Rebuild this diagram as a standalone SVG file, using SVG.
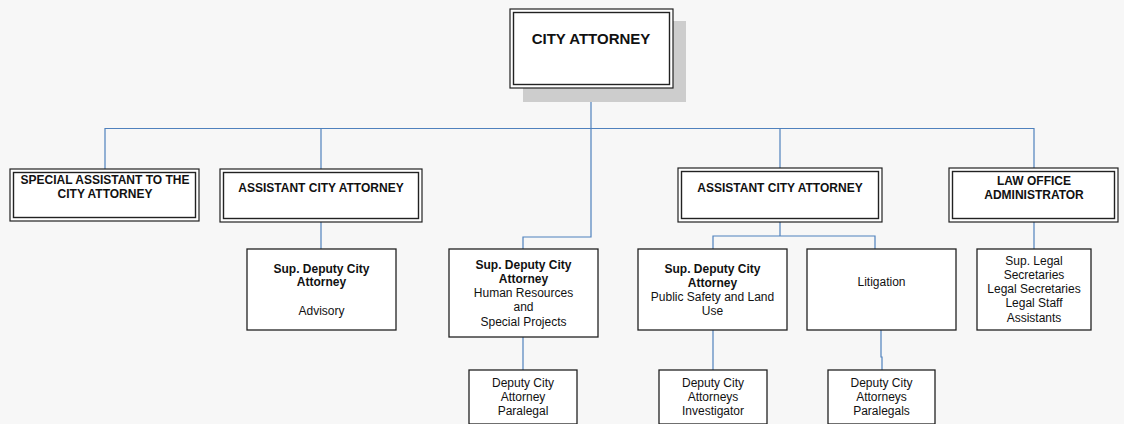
<svg xmlns="http://www.w3.org/2000/svg" width="1124" height="424" viewBox="0 0 1124 424">
<style>
.bg{fill:#f7f7f7}
.conn{fill:none;stroke:#4f81bd;stroke-width:1.2}
.outer{fill:#fff;stroke:#222;stroke-width:1.2}
.inner{fill:none;stroke:#222;stroke-width:1.4}
.box{fill:#fff;stroke:#222;stroke-width:1.3}
.shadow{fill:#cdcdcd}
text{font-family:"Liberation Sans",Arial,sans-serif;fill:#111;text-anchor:middle;font-size:12px}
.b{font-weight:bold}
.t{font-weight:bold;font-size:15px}
</style>
<rect class="bg" x="0" y="0" width="1124" height="424"/>
<g id="connectors">
<path class="conn" d="M591,88 V128.5"/>
<path class="conn" d="M105,169 V128.5 H1034 V168"/>
<path class="conn" d="M321,128.5 V169"/>
<path class="conn" d="M780,128.5 V168"/>
<path class="conn" d="M591,128.5 V237 H523 V249"/>
<path class="conn" d="M321,222 V249"/>
<path class="conn" d="M780,222 V236 H713 V249 M780,236 H875 V249"/>
<path class="conn" d="M1034,222 V249"/>
<path class="conn" d="M523,337 V370"/>
<path class="conn" d="M713,330 V370"/>
<path class="conn" d="M881,330 V357 H882 V370"/>
</g>
<g id="city-attorney">
<rect class="shadow" x="523" y="21" width="163" height="81"/>
<rect class="outer" x="510" y="9" width="163" height="79"/>
<rect class="inner" x="513.5" y="12.5" width="156" height="72"/>
<text class="t" x="591" y="44">CITY ATTORNEY</text>
</g>
<g id="special-assistant">
<rect class="outer" x="10" y="169" width="189" height="52"/>
<rect class="inner" x="13.5" y="172.5" width="182" height="45"/>
<text class="b" x="105" y="184">SPECIAL ASSISTANT TO THE</text>
<text class="b" x="105" y="198">CITY ATTORNEY</text>
</g>
<g id="assistant-1">
<rect class="outer" x="220" y="169" width="202" height="53"/>
<rect class="inner" x="223.5" y="172.5" width="195" height="46"/>
<text class="b" x="321" y="192">ASSISTANT CITY ATTORNEY</text>
</g>
<g id="assistant-2">
<rect class="outer" x="678" y="168" width="204" height="54"/>
<rect class="inner" x="681.5" y="171.5" width="197" height="47"/>
<text class="b" x="780" y="192">ASSISTANT CITY ATTORNEY</text>
</g>
<g id="law-office-administrator">
<rect class="outer" x="949" y="168" width="169" height="54"/>
<rect class="inner" x="952.5" y="171.5" width="162" height="47"/>
<text class="b" x="1034" y="185">LAW OFFICE</text>
<text class="b" x="1034" y="199">ADMINISTRATOR</text>
</g>
<g id="advisory">
<rect class="box" x="247" y="249" width="149" height="81"/>
<text class="b" x="321.5" y="272.5">Sup. Deputy City</text>
<text class="b" x="321.5" y="286">Attorney</text>
<text x="321.5" y="315">Advisory</text>
</g>
<g id="hr-special-projects">
<rect class="box" x="449" y="249" width="149" height="88"/>
<text class="b" x="523.5" y="268.5">Sup. Deputy City</text>
<text class="b" x="523.5" y="283">Attorney</text>
<text x="523.5" y="297">Human Resources</text>
<text x="523.5" y="311">and</text>
<text x="523.5" y="325.5">Special Projects</text>
</g>
<g id="public-safety">
<rect class="box" x="638" y="249" width="149" height="81"/>
<text class="b" x="712.5" y="272.5">Sup. Deputy City</text>
<text class="b" x="712.5" y="286.5">Attorney</text>
<text x="712.5" y="300.5">Public Safety and Land</text>
<text x="712.5" y="314.5">Use</text>
</g>
<g id="litigation">
<rect class="box" x="807" y="249" width="149" height="81"/>
<text x="881.5" y="286">Litigation</text>
</g>
<g id="legal-staff">
<rect class="box" x="977" y="249" width="114" height="81"/>
<text x="1034" y="265">Sup. Legal</text>
<text x="1034" y="279">Secretaries</text>
<text x="1034" y="293">Legal Secretaries</text>
<text x="1034" y="307">Legal Staff</text>
<text x="1034" y="321.5">Assistants</text>
</g>
<g id="deputy-paralegal">
<rect class="box" x="469" y="370" width="108" height="54"/>
<text x="523" y="386.5">Deputy City</text>
<text x="523" y="400.5">Attorney</text>
<text x="523" y="414.5">Paralegal</text>
</g>
<g id="deputy-investigator">
<rect class="box" x="659" y="370" width="108" height="54"/>
<text x="713" y="386.5">Deputy City</text>
<text x="713" y="400.5">Attorneys</text>
<text x="713" y="414.5">Investigator</text>
</g>
<g id="deputy-paralegals">
<rect class="box" x="828" y="370" width="107" height="54"/>
<text x="881.5" y="386.5">Deputy City</text>
<text x="881.5" y="400.5">Attorneys</text>
<text x="881.5" y="414.5">Paralegals</text>
</g>
</svg>
